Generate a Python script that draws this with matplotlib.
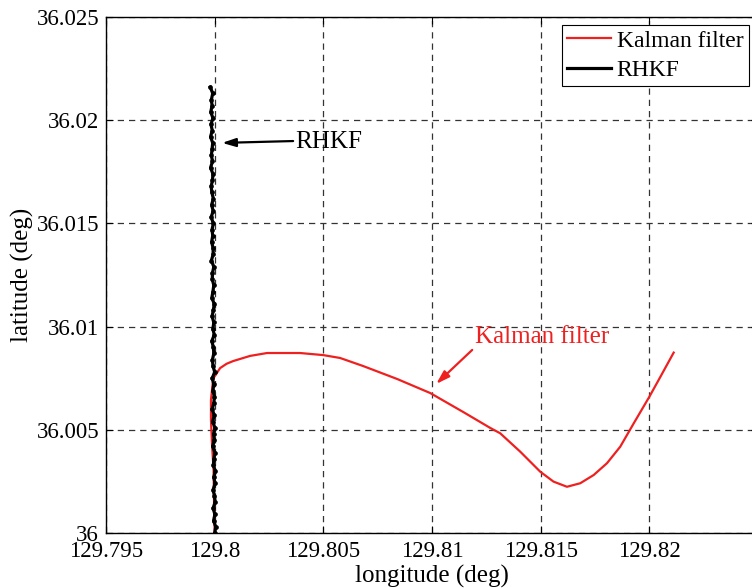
import matplotlib
matplotlib.use("Agg")
import matplotlib.pyplot as plt

plt.rcParams['font.family'] = ['Liberation Serif', 'DejaVu Serif']

# Kalman filter track (longitude, latitude in degrees)
kf_lon = [129.80000, 129.79997, 129.79995, 129.79988, 129.79983, 129.79983,
          129.79990, 129.79995, 129.80025, 129.80055, 129.80085, 129.80163,
          129.80241, 129.80393, 129.80499, 129.80577, 129.80683, 129.80840,
          129.80992, 129.81144, 129.81268, 129.81314, 129.81406, 129.81498,
          129.81559, 129.81621, 129.81682, 129.81744, 129.81805, 129.81866,
          129.81928, 129.82000, 129.82051, 129.82112]
kf_lat = [36.00000, 36.00160, 36.00305, 36.00426, 36.00547, 36.00644,
          36.00717, 36.00751, 36.00799, 36.00820, 36.00833, 36.00858,
          36.00872, 36.00872, 36.00862, 36.00848, 36.00809, 36.00746,
          36.00678, 36.00586, 36.00509, 36.00483, 36.00394, 36.00297,
          36.00249, 36.00224, 36.00241, 36.00281, 36.00338, 36.00418,
          36.00531, 36.00660, 36.00757, 36.00874]

# RHKF track (longitude, latitude in degrees)
rhkf_lat = [36.0000, 36.0003, 36.0006, 36.0009, 36.0012, 36.0015, 36.0018,
            36.0021, 36.0024, 36.0027, 36.0030, 36.0033, 36.0036, 36.0039,
            36.0042, 36.0045, 36.0048, 36.0051, 36.0054, 36.0057, 36.0060,
            36.0063, 36.0066, 36.0069, 36.0072, 36.0075, 36.0078, 36.0081,
            36.0084, 36.0087, 36.0090, 36.0093, 36.0096, 36.0099, 36.0102,
            36.0105, 36.0108, 36.0111, 36.0114, 36.0117, 36.0120, 36.0123,
            36.0126, 36.0129, 36.0132, 36.0135, 36.0138, 36.0141, 36.0144,
            36.0147, 36.0150, 36.0153, 36.0156, 36.0159, 36.0162, 36.0165,
            36.0168, 36.0171, 36.0174, 36.0177, 36.0180, 36.0183, 36.0186,
            36.0189, 36.0192, 36.0195, 36.0198, 36.0201, 36.0204, 36.0207,
            36.0210, 36.0213, 36.0216]
rhkf_lon = [129.80000, 129.80005, 129.79995, 129.80001, 129.79993, 129.80002,
            129.79999, 129.79993, 129.80002, 129.79996, 129.80003, 129.79994,
            129.79997, 129.80001, 129.79991, 129.79998, 129.79995, 129.80001,
            129.79991, 129.79998, 129.79989, 129.79996, 129.79999, 129.79992,
            129.79996, 129.79989, 129.80000, 129.79992, 129.79990, 129.79996,
            129.79994, 129.79987, 129.79998, 129.79992, 129.79996, 129.79988,
            129.79994, 129.79998, 129.79987, 129.79992, 129.79996, 129.79989,
            129.79990, 129.79996, 129.79985, 129.79993, 129.79993, 129.79986,
            129.79991, 129.79988, 129.79994, 129.79984, 129.79993, 129.79986,
            129.79994, 129.79987, 129.79984, 129.79990, 129.79992, 129.79981,
            129.79990, 129.79985, 129.79988, 129.79991, 129.79981, 129.79989,
            129.79983, 129.79992, 129.79982, 129.79988, 129.79985, 129.79991,
            129.79980]

x_ticks = [129.795, 129.8, 129.805, 129.81, 129.815, 129.82]
x_tick_labels = ['129.795', '129.8', '129.805', '129.81', '129.815', '129.82']
y_ticks = [36.0, 36.005, 36.01, 36.015, 36.02, 36.025]
y_tick_labels = ['36', '36.005', '36.01', '36.015', '36.02', '36.025']

W, H = 752, 588
fig = plt.figure(figsize=(W / 100, H / 100), dpi=100)
# the axes run past the right edge of the figure
ax = fig.add_axes([106 / W, 55 / H, 652 / W, 516 / H])

red = '#ee2020'
ax.plot(kf_lon, kf_lat, color=red, lw=1.6, label='Kalman filter')
ax.plot(rhkf_lon, rhkf_lat, color='black', lw=2.3, label='RHKF')
# sample points along the RHKF track
ax.plot(rhkf_lon, rhkf_lat, ls='none', color='black', marker='o', ms=3.4,
        mew=0)

ax.set_xlim(129.795, 129.825)
ax.set_ylim(36.0, 36.025)
ax.set_xticks(x_ticks)
ax.set_xticklabels(x_tick_labels)
ax.set_yticks(y_ticks)
ax.set_yticklabels(y_tick_labels)
ax.tick_params(direction='in', length=5, width=0.8, labelsize=16.5,
               top=True, right=True)
ax.tick_params(axis='x', pad=6)
ax.tick_params(axis='y', pad=5)
ax.grid(True, color='0.2', lw=0.9, linestyle=(0, (5, 4)))
for s in ax.spines.values():
    s.set_linewidth(1.0)

ax.set_xlabel('longitude (deg)', fontsize=18, labelpad=2)
ax.set_ylabel('latitude (deg)', fontsize=18, labelpad=2)

# callouts
ax.annotate('', xy=(129.80034, 36.0189), xytext=(129.80361, 36.01899),
            arrowprops=dict(arrowstyle='-|>,head_length=0.8,head_width=0.25',
                            color='black', lw=1.6, shrinkA=0, shrinkB=0))
ax.text(129.8037, 36.01895, 'RHKF', fontsize=18, color='black',
        ha='left', va='center')
ax.annotate('', xy=(129.81019, 36.00722), xytext=(129.81185, 36.00887),
            arrowprops=dict(arrowstyle='-|>,head_length=0.8,head_width=0.25',
                            color=red, lw=1.6, shrinkA=0, shrinkB=0))
ax.text(129.81199, 36.0095, 'Kalman filter', fontsize=18, color=red,
        ha='left', va='center')

leg = ax.legend(loc='upper left', bbox_to_anchor=(562 / W, 1 - 25 / H),
                bbox_transform=fig.transFigure, fontsize=17, frameon=True,
                fancybox=False, framealpha=1, edgecolor='black',
                handlelength=1.85, handletextpad=0.25, borderpad=0.22,
                labelspacing=0.32, borderaxespad=0)
leg.get_frame().set_linewidth(0.8)

fig.savefig('out.png', dpi=100)
